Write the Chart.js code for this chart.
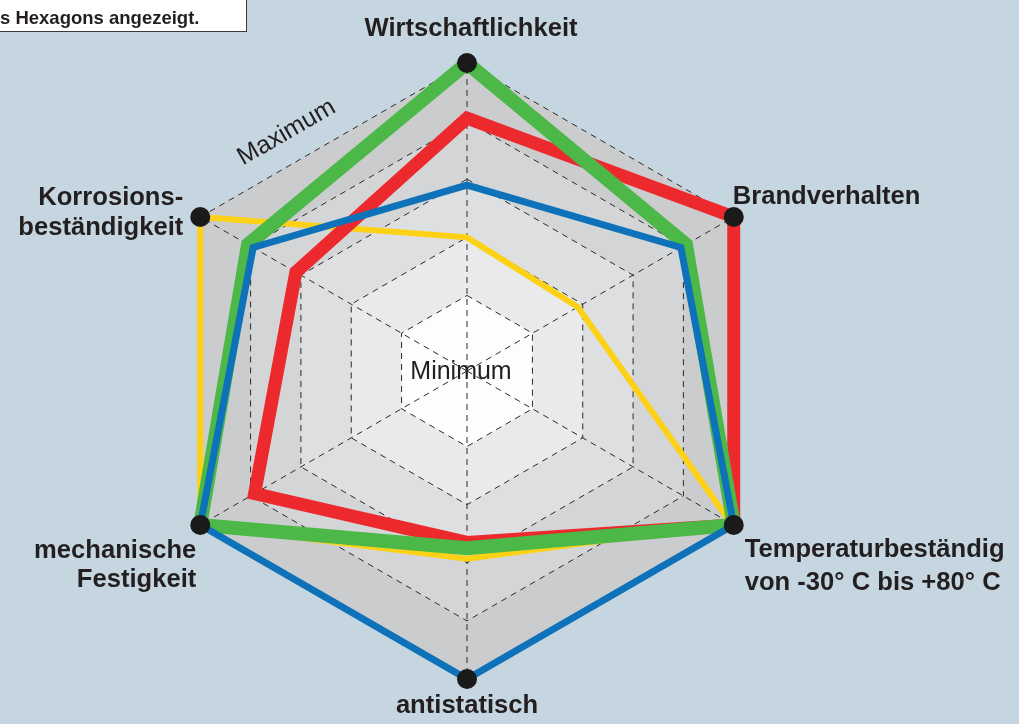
<!DOCTYPE html>
<html>
<head>
<meta charset="utf-8">
<script src="https://cdn.jsdelivr.net/npm/chart.js@4/dist/chart.umd.min.js"></script>
<style>
	body { margin: 0; background: #c6d6e0; }
	#netz { display: block; }
</style>
</head>
<body>
<canvas id="netz" width="1019" height="724"></canvas>
<script>
// Achsen im Uhrzeigersinn, oben beginnend
var achsen = [
	['Wirtschaftlichkeit'],
	['Brandverhalten'],
	['Temperaturbeständig', 'von -30° C bis +80° C'],
	['antistatisch'],
	['mechanische', 'Festigkeit'],
	['Korrosions-', 'beständigkeit']
];
// Bewertungen (1 = Minimum, 5 = Maximum)
var blau = [2.9, 3.95, 5, 5, 5, 3.95];
var gruen = [5, 4.05, 5, 2.75, 5, 4.05];
var rot = [4.05, 5, 5, 2.65, 3.92, 3.1];
var gelb = [2.0, 1.9, 4.95, 2.93, 5, 5];
var maximum = [5, 5, 5, 5, 5, 5];
var ringe = [1, 2, 3, 4, 5];

var hintergrund = '#c6d6e0';
var ringFarben = ['#fdfdfd', '#e9eaeb', '#dedfe1', '#d4d5d7', '#cbcccd'];
var schrift = '#231f20';

// Sechseck für einen Wert über die Skala zeichnen
function sechseck(ctx, scale, wert) {
	ctx.beginPath();
	for (var i = 0; i < achsen.length; i++) {
		var p = scale.getPointPositionForValue(i, wert);
		if (i == 0) ctx.moveTo(p.x, p.y); else ctx.lineTo(p.x, p.y);
	}
	ctx.closePath();
}

var flaechen = {
	id: 'flaechen',
	beforeDraw: function(chart) {
		var ctx = chart.ctx;
		var scale = chart.scales.r;
		ctx.save();
		ctx.fillStyle = hintergrund;
		ctx.fillRect(0, 0, chart.width, chart.height);
		// Ringe von außen nach innen füllen
		for (var i = ringe.length - 1; i >= 0; i--) {
			sechseck(ctx, scale, ringe[i]);
			ctx.fillStyle = ringFarben[i];
			ctx.fill();
		}
		ctx.fillStyle = schrift;
		ctx.font = '25px "Liberation Sans", Arial, sans-serif';
		ctx.textAlign = 'center';
		ctx.textBaseline = 'alphabetic';
		ctx.fillText('Minimum', scale.xCenter - 6, scale.yCenter + 8);
		ctx.restore();
	}
};

// Versatz der Achsenbeschriftungen zur Ecke: [dx, dy der ersten Zeile, Zeilenabstand, Ausrichtung]
var labelVersatz = [
	[4, -27, 0, 'center'],
	[-1, -13, 0, 'left'],
	[11, 32, 33, 'left'],
	[0, 34, 0, 'center'],
	[-4, 33, 29, 'right'],
	[-17, -12, 30, 'right']
];

var beschriftung = {
	id: 'beschriftung',
	afterDraw: function(chart) {
		var ctx = chart.ctx;
		var scale = chart.scales.r;
		var R = scale.drawingArea;
		ctx.save();
		ctx.fillStyle = schrift;
		ctx.textBaseline = 'alphabetic';
		ctx.font = 'bold 25.6px "Liberation Sans", Arial, sans-serif';
		for (var i = 0; i < achsen.length; i++) {
			var p = scale.getPointPosition(i, R);
			var v = labelVersatz[i];
			ctx.textAlign = v[3];
			for (var z = 0; z < achsen[i].length; z++) {
				ctx.fillText(achsen[i][z], p.x + v[0], p.y + v[1] + z * v[2]);
			}
		}

		// "Maximum" parallel zur Kante oben links
		var a = scale.getPointPosition(5, R);
		var b = scale.getPointPosition(0, R);
		var w = Math.atan2(b.y - a.y, b.x - a.x);
		var ux = Math.cos(w), uy = Math.sin(w);
		var mx = a.x + ux * 117 + uy * 30;
		var my = a.y + uy * 117 - ux * 30;
		ctx.translate(mx, my);
		ctx.rotate(w);
		ctx.font = '25px "Liberation Sans", Arial, sans-serif';
		ctx.textAlign = 'center';
		ctx.textBaseline = 'middle';
		ctx.fillText('Maximum', 0, 0);
		ctx.setTransform(1, 0, 0, 1, 0, 0);

		// Hinweiskasten oben links
		ctx.fillStyle = '#ffffff';
		ctx.fillRect(-1, -1, 248, 33);
		ctx.strokeStyle = '#3a3a3a';
		ctx.lineWidth = 1;
		ctx.strokeRect(-1.5, -1.5, 248, 33);
		ctx.fillStyle = schrift;
		ctx.font = 'bold 18.5px "Liberation Sans", Arial, sans-serif';
		ctx.textAlign = 'left';
		ctx.textBaseline = 'alphabetic';
		ctx.fillText('s Hexagons angezeigt.', 0, 24);
		ctx.restore();
	}
};

function linie(werte, farbe, breite) {
	return {
		data: werte,
		borderColor: farbe,
		borderWidth: breite,
		backgroundColor: 'transparent',
		fill: false,
		pointRadius: 0,
		pointHoverRadius: 0,
		borderJoinStyle: 'miter'
	};
}

var ctx = document.getElementById('netz').getContext('2d');
var netz = new Chart(ctx, {
	type: 'radar',
	data: {
		labels: achsen,
		datasets: [
			{
				data: maximum,
				showLine: false,
				fill: false,
				backgroundColor: 'transparent',
				borderWidth: 0,
				pointRadius: 10,
				pointHoverRadius: 10,
				pointBackgroundColor: '#1b1a1a',
				pointBorderWidth: 0
			},
			linie(blau, '#0d72ba', 7),
			linie(gruen, '#4cb848', 14),
			linie(rot, '#ec2a2e', 13),
			linie(gelb, '#fdd116', 6)
		]
	},
	options: {
		responsive: false,
		devicePixelRatio: 1,
		animation: false,
		layout: { padding: { left: 159, right: 244, top: 63, bottom: 45 } },
		plugins: {
			legend: { display: false },
			tooltip: { enabled: false }
		},
		scales: {
			r: {
				min: -0.3,
				max: 5,
				afterBuildTicks: function(scale) {
					scale.ticks = ringe.map(function(v) { return { value: v }; });
				},
				ticks: { display: false },
				pointLabels: { display: false },
				grid: { color: '#2a2a2a', lineWidth: 1 },
				border: { dash: [6, 5] },
				angleLines: { color: '#2a2a2a', lineWidth: 1, borderDash: [6, 5] }
			}
		}
	},
	plugins: [flaechen, beschriftung]
});
</script>
</body>
</html>
